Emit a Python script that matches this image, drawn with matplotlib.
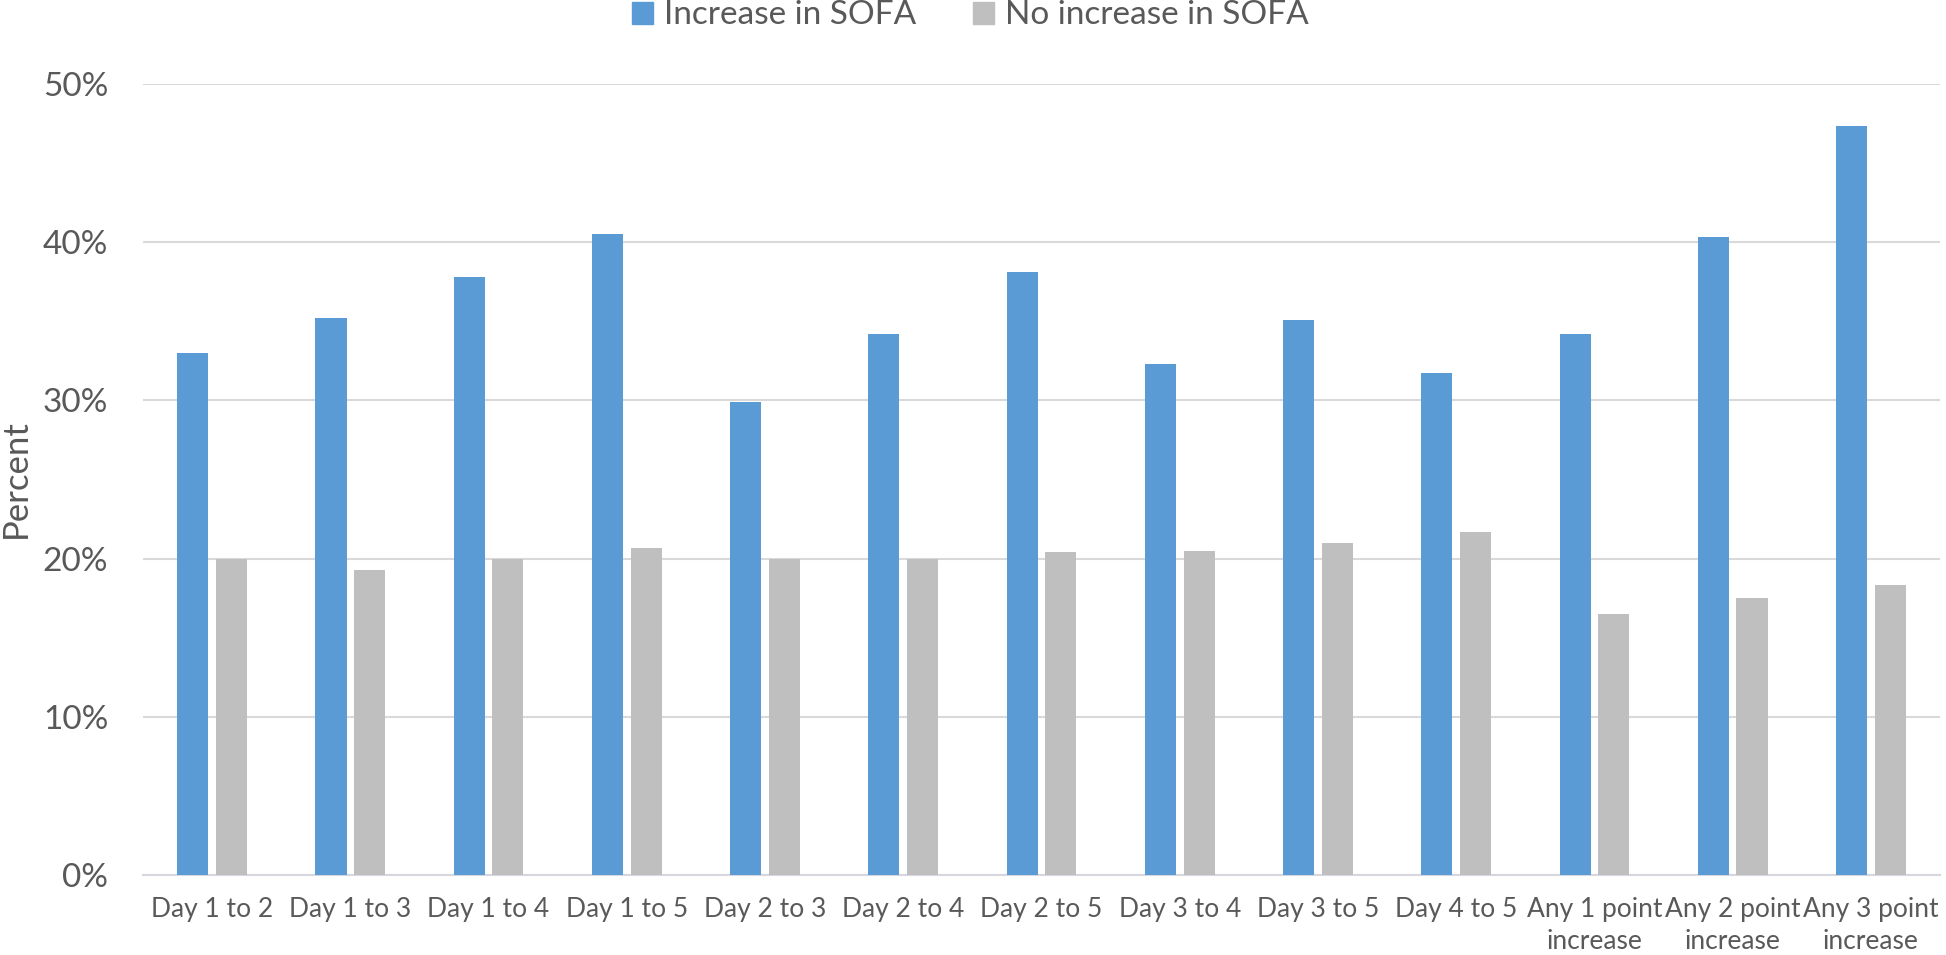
import matplotlib
matplotlib.use("Agg")
import matplotlib.pyplot as plt
from matplotlib.patches import Patch
import numpy as np

# data (percent)
categories = ["Day 1 to 2", "Day 1 to 3", "Day 1 to 4", "Day 1 to 5",
              "Day 2 to 3", "Day 2 to 4", "Day 2 to 5", "Day 3 to 4",
              "Day 3 to 5", "Day 4 to 5", "Any 1 point\nincrease",
              "Any 2 point\nincrease", "Any 3 point\nincrease"]
increase = [33.0, 35.2, 37.8, 40.5, 29.9, 34.2, 38.1, 32.3, 35.1, 31.75, 34.2, 40.3, 47.35]
no_increase = [20.0, 19.3, 20.0, 20.7, 20.0, 20.0, 20.4, 20.5, 21.0, 21.7, 16.5, 17.5, 18.35]
series_names = ["Increase in SOFA", "No increase in SOFA"]
yticks = [0, 10, 20, 30, 40, 50]

blue = "#5B9BD5"
grey = "#BFBFBF"
txt = "#595959"

plt.rcParams['font.family'] = ['Lato', 'DejaVu Sans']

fig = plt.figure(figsize=(19.46, 9.55), dpi=100)
ax = fig.add_axes([143 / 1946, 80 / 955, 1797 / 1946, 791 / 955])

x = np.arange(len(categories))
w = 0.225
ax.bar(x - 0.14, increase, w, color=blue, zorder=3)
ax.bar(x + 0.14, no_increase, w, color=grey, zorder=3)

ax.set_xlim(-0.5, len(categories) - 0.5)
ax.set_ylim(0, 50)
ax.set_yticks(yticks)
ax.set_yticklabels([f"{v}%" for v in yticks])
ax.set_xticks(x)
ax.set_xticklabels(categories, multialignment='center', linespacing=1.33)

ax.tick_params(axis='y', length=0, pad=25, labelsize=24, labelcolor=txt)
ax.tick_params(axis='x', length=0, pad=16, labelsize=19, labelcolor=txt)

ax.grid(axis='y', color='#D9D9D9', linewidth=1.5, zorder=0)
ax.set_axisbelow(True)
for s in ['top', 'right', 'left']:
    ax.spines[s].set_visible(False)
ax.spines['bottom'].set_color('#D6D6DE')
ax.spines['bottom'].set_linewidth(1.5)

fig.text(0.0, 0.4984, "Percent", rotation=90, ha='left', va='center',
         fontsize=25, color=txt)

handles = [Patch(color=blue), Patch(color=grey)]
fig.legend(handles, series_names, loc='upper center', bbox_to_anchor=(0.4987, 1.031),
           ncol=2, frameon=False, fontsize=24, labelcolor=txt,
           handlelength=0.63, handleheight=0.63, handletextpad=0.33,
           columnspacing=1.68)

fig.savefig("out.png", dpi=100)
